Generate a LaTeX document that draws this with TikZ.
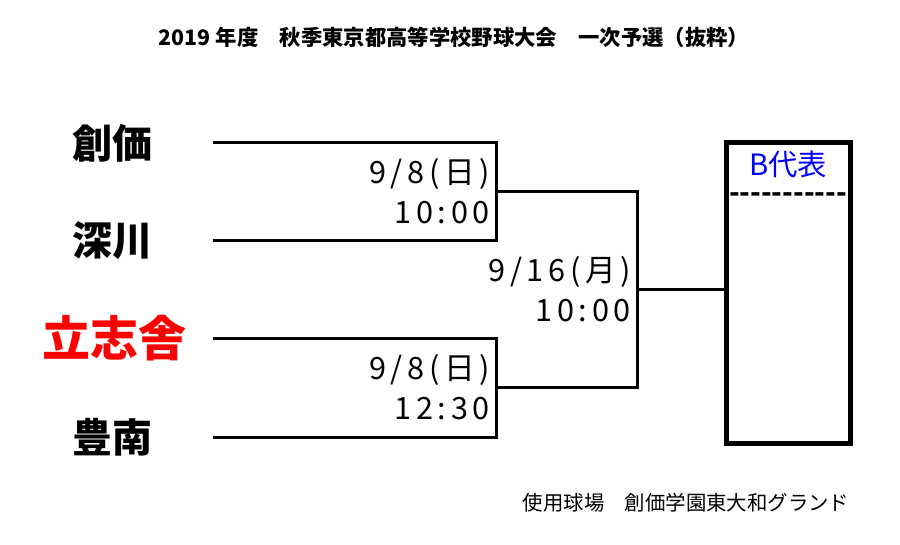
\documentclass[tikz,border=0pt]{standalone}
\usepackage{fontspec}
\setmainfont{Noto Sans CJK JP}
\newfontfamily\jpfont{Noto Sans CJK JP}
\usetikzlibrary{positioning}
\definecolor{winred}{RGB}{255,0,0}
\definecolor{repblue}{RGB}{0,0,255}
\tikzset{
  team/.style = {inner sep=0pt, font=\jpfont\bfseries\fontsize{30}{30}\selectfont},% school
  team_w/.style = {team, text=winred, font=\jpfont\bfseries\fontsize{36}{36}\selectfont},% school, winner
  game/.style = {inner sep=0pt, anchor=east, font=\jpfont\addfontfeature{LetterSpace=15}\fontsize{23}{23}\selectfont},% date and time
  bline/.style = {line width=2.25pt},
  repbox/.style = {draw, line width=3.75pt, minimum width=93pt, minimum height=225pt, inner sep=0pt}
}
\begin{document}
\begin{tikzpicture}[x=0.75pt,y=-0.75pt]
\useasboundingbox (0,0) rectangle (900,545);
% title and ground
\node[font=\jpfont\bfseries\fontsize{16}{16}\selectfont] (title) at (454,37) {2019 年度　秋季東京都高等学校野球大会　一次予選（抜粋）};
\node[font=\jpfont\fontsize{15.3}{15.3}\selectfont] (ground) at (686,503) {使用球場　創価学園東大和グランド};
% schools
\node[team] (soka) at (112,143) {創価};
\node[team] (fuka) at (112,241) {深川};
\node[team_w] (risshi) at (114,338) {立志舎};
\node[team] (hoh) at (112,437) {豊南};
\coordinate (s1) at (213,143);
\coordinate (s2) at (213,241);
\coordinate (s3) at (213,339);
\coordinate (s4) at (213,437);
\coordinate (m1) at (496,192);
\coordinate (m2) at (496,388);
\coordinate (fin) at (637,290);
% bracket
\draw[bline] (s1) -| (m1) |- (s2);
\draw[bline] (s3) -| (m2) |- (s4);
\draw[bline] (m1) -| (fin) |- (m2);
\node[repbox] (rep) at (788.5,293) {};
\draw[bline] (fin) -- (fin -| rep.west);
\node[text=repblue, font=\jpfont\fontsize{22}{22}\selectfont, inner sep=0pt] (btitle) at (788,164) {B代表};
\node[font=\jpfont\bfseries\fontsize{21}{21}\selectfont, inner sep=0pt] (bdash) at (788,198) {-----------};
% dates
\node[game] (d1) at (490,174) {9/8(日)};
\node[game] (t1) at (490,213) {10:00};
\node[game] (d2) at (631,272) {9/16(月)};
\node[game] (t2) at (631,311) {10:00};
\node[game] (d3) at (490,370) {9/8(日)};
\node[game] (t3) at (490,409) {12:30};
\end{tikzpicture}
\end{document}
